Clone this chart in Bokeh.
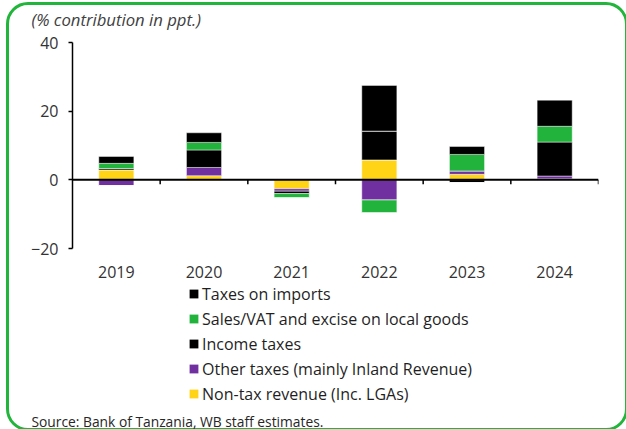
from bokeh.plotting import figure
from bokeh.layouts import column
from bokeh.models import (FactorRange, Range1d, FixedTicker, Legend, LegendItem, Label,
                          ColumnDataSource, Span)
from bokeh.transform import dodge
from bokeh.embed import file_html
from bokeh.resources import INLINE

years = ["2019", "2020", "2021", "2022", "2023", "2024"]
non_tax = [2.9, 1.2, -2.6, 5.8, 1.6, 0.3]
other_taxes = [-1.7, 2.4, -0.7, -5.9, 1.0, 0.8]
income_taxes = [0.4, 5.1, -0.7, 8.4, -0.8, 9.9]
sales_vat = [1.5, 2.2, -1.2, -3.7, 4.8, 4.6]
imports = [2.0, 2.8, 0.0, 13.3, 2.3, 7.6]

series_labels = ["Non-tax revenue (Inc. LGAs)", "Other taxes (mainly Inland Revenue)",
                 "Income taxes", "Sales/VAT and excise on local goods", "Taxes on imports"]
y_ticks = [-20, 0, 20, 40]
title_text = "(% contribution in ppt.)"
source_text = "Source: Bank of Tanzania, WB staff estimates."

keys = ["non_tax", "other", "income", "sales", "imports"]
values = [non_tax, other_taxes, income_taxes, sales_vat, imports]
colors = ["#FFD316", "#7030A0", "#000000", "#21B33B", "#000000"]
GREEN = "#22B53C"
FONT = "Open Sans"
TXT = "#333333"

data = {"year": years}
for k, vals in zip(keys, values):
    data[k + "_pos"] = [max(v, 0) for v in vals]
    data[k + "_neg"] = [min(v, 0) for v in vals]
src = ColumnDataSource(data)

W = 618


def strip(height, **kw):
    f = figure(width=W, height=height, x_axis_type=None, y_axis_type=None, title=None,
               min_border=0, toolbar_location=None, output_backend="svg",
               frame_align=False, **kw)
    f.outline_line_color = None
    f.background_fill_color = None
    f.border_fill_color = None
    return f


# --- title strip ---
top = strip(26)
top.add_layout(Label(x=23, y=11.3, x_units="screen", y_units="screen", text=title_text,
                     text_font=FONT, text_font_style="italic", text_font_size="16.7px",
                     text_color="#404040", text_baseline="alphabetic"))

# --- main chart ---
p = figure(width=W, height=258, x_range=FactorRange(*years), y_range=Range1d(-20, 40),
           title=None, output_backend="svg", toolbar_location=None,
           min_border_left=64, min_border_right=28, min_border_top=12, min_border_bottom=40)
p.outline_line_color = None
p.background_fill_color = None
p.border_fill_color = None
p.xgrid.visible = False
p.ygrid.visible = False

p.xaxis.axis_line_color = None
p.xaxis.major_tick_line_color = None
p.xaxis.minor_tick_line_color = None
p.xaxis.major_tick_out = 0
p.xaxis.major_tick_in = 0
p.xaxis.major_label_standoff = 17
p.xaxis.major_label_text_font = FONT
p.xaxis.major_label_text_font_size = "16px"
p.xaxis.major_label_text_color = TXT

p.yaxis.ticker = FixedTicker(ticks=y_ticks)
p.yaxis.axis_line_color = "black"
p.yaxis.axis_line_width = 1.5
p.yaxis.major_tick_line_color = "black"
p.yaxis.major_tick_line_width = 1.5
p.yaxis.major_tick_out = 4
p.yaxis.major_tick_in = 0
p.yaxis.minor_tick_line_color = None
p.yaxis.major_label_standoff = 10
p.yaxis.major_label_text_font = FONT
p.yaxis.major_label_text_font_size = "16px"
p.yaxis.major_label_text_color = TXT

p.vbar_stack([k + "_pos" for k in keys], x="year", width=0.4, color=colors,
             source=src, line_color="white", line_alpha=0.45, line_width=1)
p.vbar_stack([k + "_neg" for k in keys], x="year", width=0.4, color=colors,
             source=src, line_color="white", line_alpha=0.45, line_width=1)

p.add_layout(Span(location=0, dimension="width", line_color="black", line_width=2))
p.segment(x0=dodge("year", 0.5, range=p.x_range), y0=0,
          x1=dodge("year", 0.5, range=p.x_range), y1=-1.25,
          source=src, line_color="black", line_width=1.5)

# --- legend + source strip (same series, drawn out of view; only their legend shows) ---
bottom = strip(141, x_range=FactorRange(*years), y_range=Range1d(100, 200))
leg_r = bottom.vbar_stack([k + "_pos" for k in keys], x="year", width=0.4, color=colors,
                          source=src, line_color=None)
items = [LegendItem(label=series_labels[i], renderers=[leg_r[i]]) for i in [4, 3, 2, 1, 0]]
legend = Legend(items=items, location=(180, 24.4), orientation="vertical",
                glyph_width=11, glyph_height=11, label_height=21, spacing=3,
                padding=0, margin=0, label_standoff=3,
                label_text_font=FONT, label_text_font_size="16px", label_text_color="#1f1f1f",
                border_line_color=None, background_fill_alpha=0)
bottom.add_layout(legend, "center")
bottom.add_layout(Label(x=23, y=8.5, x_units="screen", y_units="screen", text=source_text,
                        text_font=FONT, text_font_size="13.8px", text_color="#262626",
                        text_baseline="alphabetic"))

layout = column(top, p, bottom, spacing=0)
layout.margin = (4, 0, 0, 8)
layout.styles = {"border-radius": "20px", "outline": f"3.5px solid {GREEN}",
                 "outline-offset": "-1.5px"}

open("out.html", "w").write(file_html(layout, INLINE))
